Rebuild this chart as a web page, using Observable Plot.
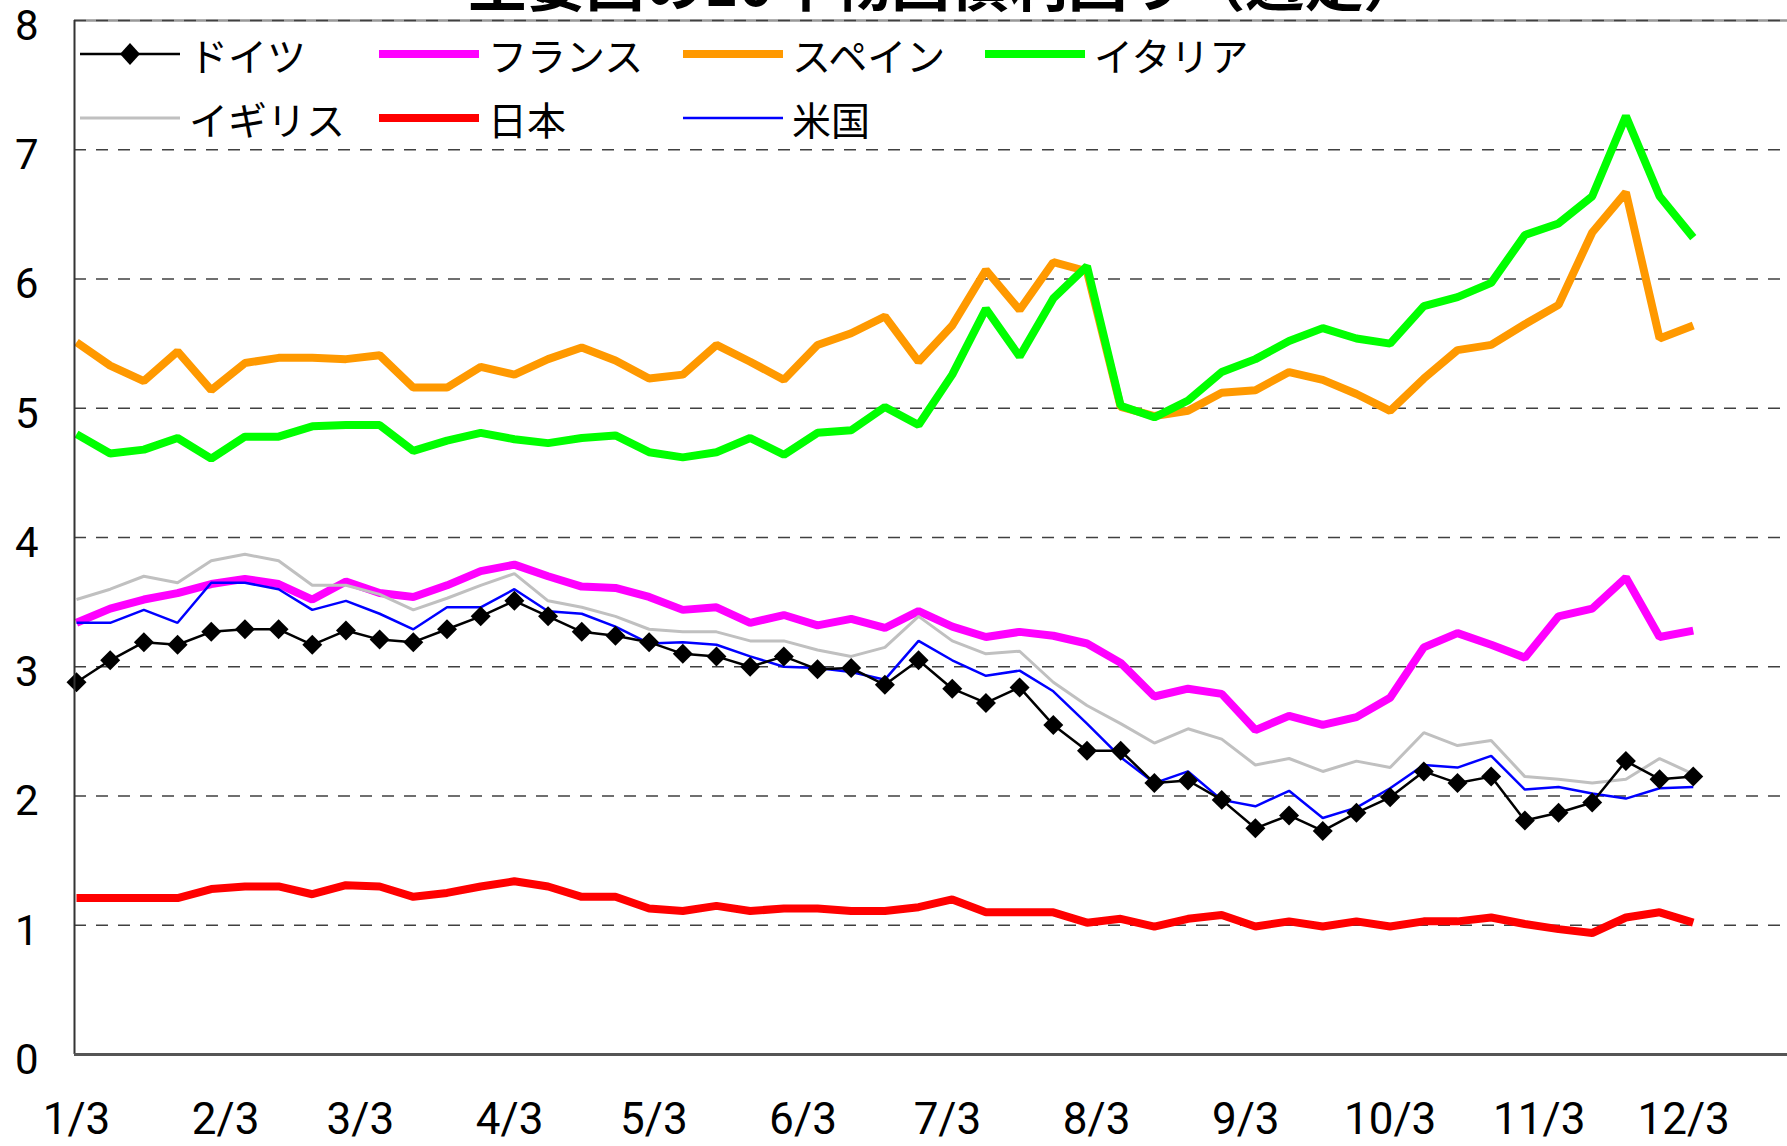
<!DOCTYPE html>
<html>
<head>
<meta charset="utf-8">
<script src="https://cdn.jsdelivr.net/npm/d3@7"></script>
<script src="https://cdn.jsdelivr.net/npm/@observablehq/plot@0.6"></script>
<style>
  html, body { margin: 0; padding: 0; background: #fff; }
  #wrap { position: relative; width: 1787px; height: 1146px; overflow: hidden; font-family: "Noto Sans CJK JP", sans-serif; }
  #title { position: absolute; left: 24px; width: 1842px; text-align: center; top: -49px; font-size: 59px; line-height: 59px; font-weight: bold; white-space: nowrap; }
  .lg { position: absolute; display: flex; align-items: center; font-size: 39px; line-height: 1; white-space: nowrap; }
  .lg svg { display: block; margin-right: 9px; }
</style>
</head>
<body>
<div id="wrap">
  <div id="chart"></div>
  <div id="title">主要国の10年物国債利回り（週足）</div>
  <div id="legend"></div>
</div>
<script>
// ---- data ----
const dates = [
  "2011-01-03","2011-01-10","2011-01-17","2011-01-24","2011-01-31",
  "2011-02-07","2011-02-14","2011-02-21","2011-02-28",
  "2011-03-07","2011-03-14","2011-03-21","2011-03-28",
  "2011-04-04","2011-04-11","2011-04-18","2011-04-25",
  "2011-05-02","2011-05-09","2011-05-16","2011-05-23","2011-05-30",
  "2011-06-06","2011-06-13","2011-06-20","2011-06-27",
  "2011-07-04","2011-07-11","2011-07-18","2011-07-25",
  "2011-08-01","2011-08-08","2011-08-15","2011-08-22","2011-08-29",
  "2011-09-05","2011-09-12","2011-09-19","2011-09-26",
  "2011-10-03","2011-10-10","2011-10-17","2011-10-24","2011-10-31",
  "2011-11-07","2011-11-14","2011-11-21","2011-11-28",
  "2011-12-05"
];
const germany = [2.88,3.05,3.19,3.17,3.27,3.29,3.29,3.17,3.28,3.21,3.19,3.29,3.39,3.51,3.39,3.27,
  3.24,3.19,3.10,3.08,3.00,3.08,2.98,2.99,2.86,3.05,2.83,2.72,2.84,2.55,2.35,2.35,
  2.10,2.12,1.97,1.75,1.85,1.73,1.87,1.99,2.19,2.10,2.15,1.81,1.87,1.95,2.27,2.13,2.15];
const france = [3.34,3.45,3.52,3.57,3.64,3.68,3.64,3.52,3.66,3.57,3.54,3.63,3.74,3.79,3.70,3.62,
  3.61,3.54,3.44,3.46,3.34,3.40,3.32,3.37,3.30,3.43,3.31,3.23,3.27,3.24,3.18,3.03,
  2.77,2.83,2.79,2.51,2.62,2.55,2.61,2.76,3.15,3.26,3.17,3.07,3.39,3.45,3.69,3.23,3.28];
const spain = [5.51,5.33,5.21,5.44,5.14,5.35,5.39,5.39,5.38,5.41,5.16,5.16,5.32,5.26,5.38,5.47,
  5.37,5.23,5.26,5.49,5.36,5.22,5.49,5.58,5.71,5.36,5.64,6.07,5.76,6.13,6.06,5.01,
  4.94,4.98,5.12,5.14,5.28,5.22,5.11,4.98,5.23,5.45,5.49,5.65,5.80,6.36,6.67,5.54,5.64];
const italy = [4.80,4.65,4.68,4.77,4.61,4.78,4.78,4.86,4.87,4.87,4.67,4.75,4.81,4.76,4.73,4.77,
  4.79,4.66,4.62,4.66,4.77,4.64,4.81,4.83,5.01,4.87,5.26,5.77,5.40,5.85,6.10,5.02,
  4.93,5.06,5.28,5.38,5.52,5.62,5.54,5.50,5.79,5.86,5.97,6.34,6.43,6.64,7.26,6.64,6.32];
const uk = [3.52,3.60,3.70,3.65,3.82,3.87,3.82,3.63,3.63,3.56,3.44,3.53,3.63,3.72,3.51,3.46,
  3.39,3.29,3.27,3.27,3.20,3.20,3.13,3.08,3.15,3.39,3.20,3.10,3.12,2.88,2.70,2.56,
  2.41,2.52,2.44,2.24,2.29,2.19,2.27,2.22,2.49,2.39,2.43,2.15,2.13,2.10,2.13,2.29,2.17];
const japan = [1.21,1.21,1.21,1.21,1.28,1.30,1.30,1.24,1.31,1.30,
  1.22,1.25,1.30,1.34,1.30,1.22,1.22,1.13,1.11,1.15,
  1.11,1.13,1.13,1.11,1.11,1.14,1.20,1.10,1.10,1.10,
  1.02,1.05,0.99,1.05,1.08,0.99,1.03,0.99,1.03,0.99,
  1.03,1.03,1.06,1.01,0.97,0.94,1.06,1.10,1.02];
const usa = [3.34,3.34,3.44,3.34,3.65,3.65,3.60,3.44,3.51,3.41,3.29,3.46,3.46,3.60,3.43,3.41,
  3.31,3.18,3.19,3.17,3.08,3.00,2.99,2.96,2.90,3.20,3.05,2.93,2.97,2.81,2.56,2.30,
  2.10,2.19,1.97,1.92,2.04,1.83,1.91,2.06,2.24,2.22,2.31,2.05,2.07,2.02,1.98,2.06,2.07];

const xTickDates = ["2011-01-03","2011-02-03","2011-03-03","2011-04-03","2011-05-03","2011-06-03",
  "2011-07-03","2011-08-03","2011-09-03","2011-10-03","2011-11-03","2011-12-03"];
const yTicks = [0,1,2,3,4,5,6,7,8];
const gridValues = [1,2,3,4,5,6,7,8];
const xDomain = ["2011-01-02T14:00Z", "2011-12-24T14:00Z"];

const seriesNames = ["ドイツ","フランス","スペイン","イタリア","イギリス","日本","米国"];
const seriesValues = [germany, france, spain, italy, uk, japan, usa];
const seriesColors = ["#000000","#FF00FF","#FF9900","#00FF00","#C0C0C0","#FF0000","#0000FF"];
const seriesWidths = [2.5, 8, 8, 8, 3, 8, 2.5];

// ---- build ----
const parse = d3.utcParse("%Y-%m-%d");
const toRows = (vals, name) => vals.map((v, i) => ({date: parse(dates[i]), value: v, name}));
const rowsBy = seriesNames.map((n, k) => toRows(seriesValues[k], n));

const drawOrder = [1, 2, 3, 4, 5, 6]; // France, Spain, Italy, UK, Japan, US
const lineMarks = drawOrder.map(k => Plot.line(rowsBy[k], {
  x: "date", y: "value", stroke: seriesColors[k], strokeWidth: seriesWidths[k],
  strokeLinejoin: "miter", strokeLinecap: "butt"
}));

const numFont = "Roboto, 'DejaVu Sans', sans-serif";

const chart = Plot.plot({
  width: 1787,
  height: 1146,
  marginLeft: 74,
  marginRight: 0,
  marginTop: 20,
  marginBottom: 92,
  style: {fontFamily: numFont, fontSize: "44px", color: "#000", background: "#fff"},
  x: {type: "utc", domain: xDomain.map(d => new Date(d))},
  y: {domain: [0, 8]},
  marks: [
    Plot.ruleY([8], {stroke: "#999", strokeWidth: 2.5}),
    Plot.ruleY(gridValues, {stroke: "#404040", strokeWidth: 1.6, strokeDasharray: "12,10"}),
    ...lineMarks,
    Plot.line(rowsBy[0], {x: "date", y: "value", stroke: seriesColors[0], strokeWidth: seriesWidths[0]}),
    Plot.dot(rowsBy[0], {x: "date", y: "value", symbol: "diamond2", r: 9, fill: "#000", stroke: "none"}),
    Plot.ruleX([new Date(xDomain[0])], {stroke: "#333", strokeWidth: 2}),
    Plot.ruleY([0], {stroke: "#555", strokeWidth: 3}),
    Plot.axisY({ticks: yTicks, tickSize: 0, tickPadding: 36, label: null, fontSize: 42, dy: 6}),
    Plot.axisX({ticks: xTickDates.map(parse), tickFormat: d => `${d.getUTCMonth() + 1}/${d.getUTCDate()}`,
      tickSize: 0, tickPadding: 48, label: null, fontSize: 44})
  ]
});
document.getElementById("chart").appendChild(chart);

// ---- legend (overlay inside plot area) ----
const legendLayout = [
  {k: 0, left: 80, top: 54}, {k: 1, left: 379, top: 54}, {k: 2, left: 683, top: 54}, {k: 3, left: 985, top: 54},
  {k: 4, left: 80, top: 118}, {k: 5, left: 379, top: 118}, {k: 6, left: 683, top: 118}
];
const legend = document.getElementById("legend");
for (const {k, left, top} of legendLayout) {
  const item = document.createElement("div");
  item.className = "lg";
  item.style.left = left + "px";
  item.style.top = (top - 25) + "px";
  item.style.height = "50px";
  const w = 100, h = 30;
  let svg = `<svg width="${w}" height="${h}"><line x1="0" x2="${w}" y1="${h/2}" y2="${h/2}" stroke="${seriesColors[k]}" stroke-width="${seriesWidths[k]}"/>`;
  if (k === 0) svg += `<path d="M${w/2},${h/2 - 11}L${w/2 + 10},${h/2}L${w/2},${h/2 + 11}L${w/2 - 10},${h/2}Z" fill="#000"/>`;
  svg += `</svg>`;
  item.innerHTML = svg + `<span>${seriesNames[k]}</span>`;
  legend.appendChild(item);
}
</script>
</body>
</html>
